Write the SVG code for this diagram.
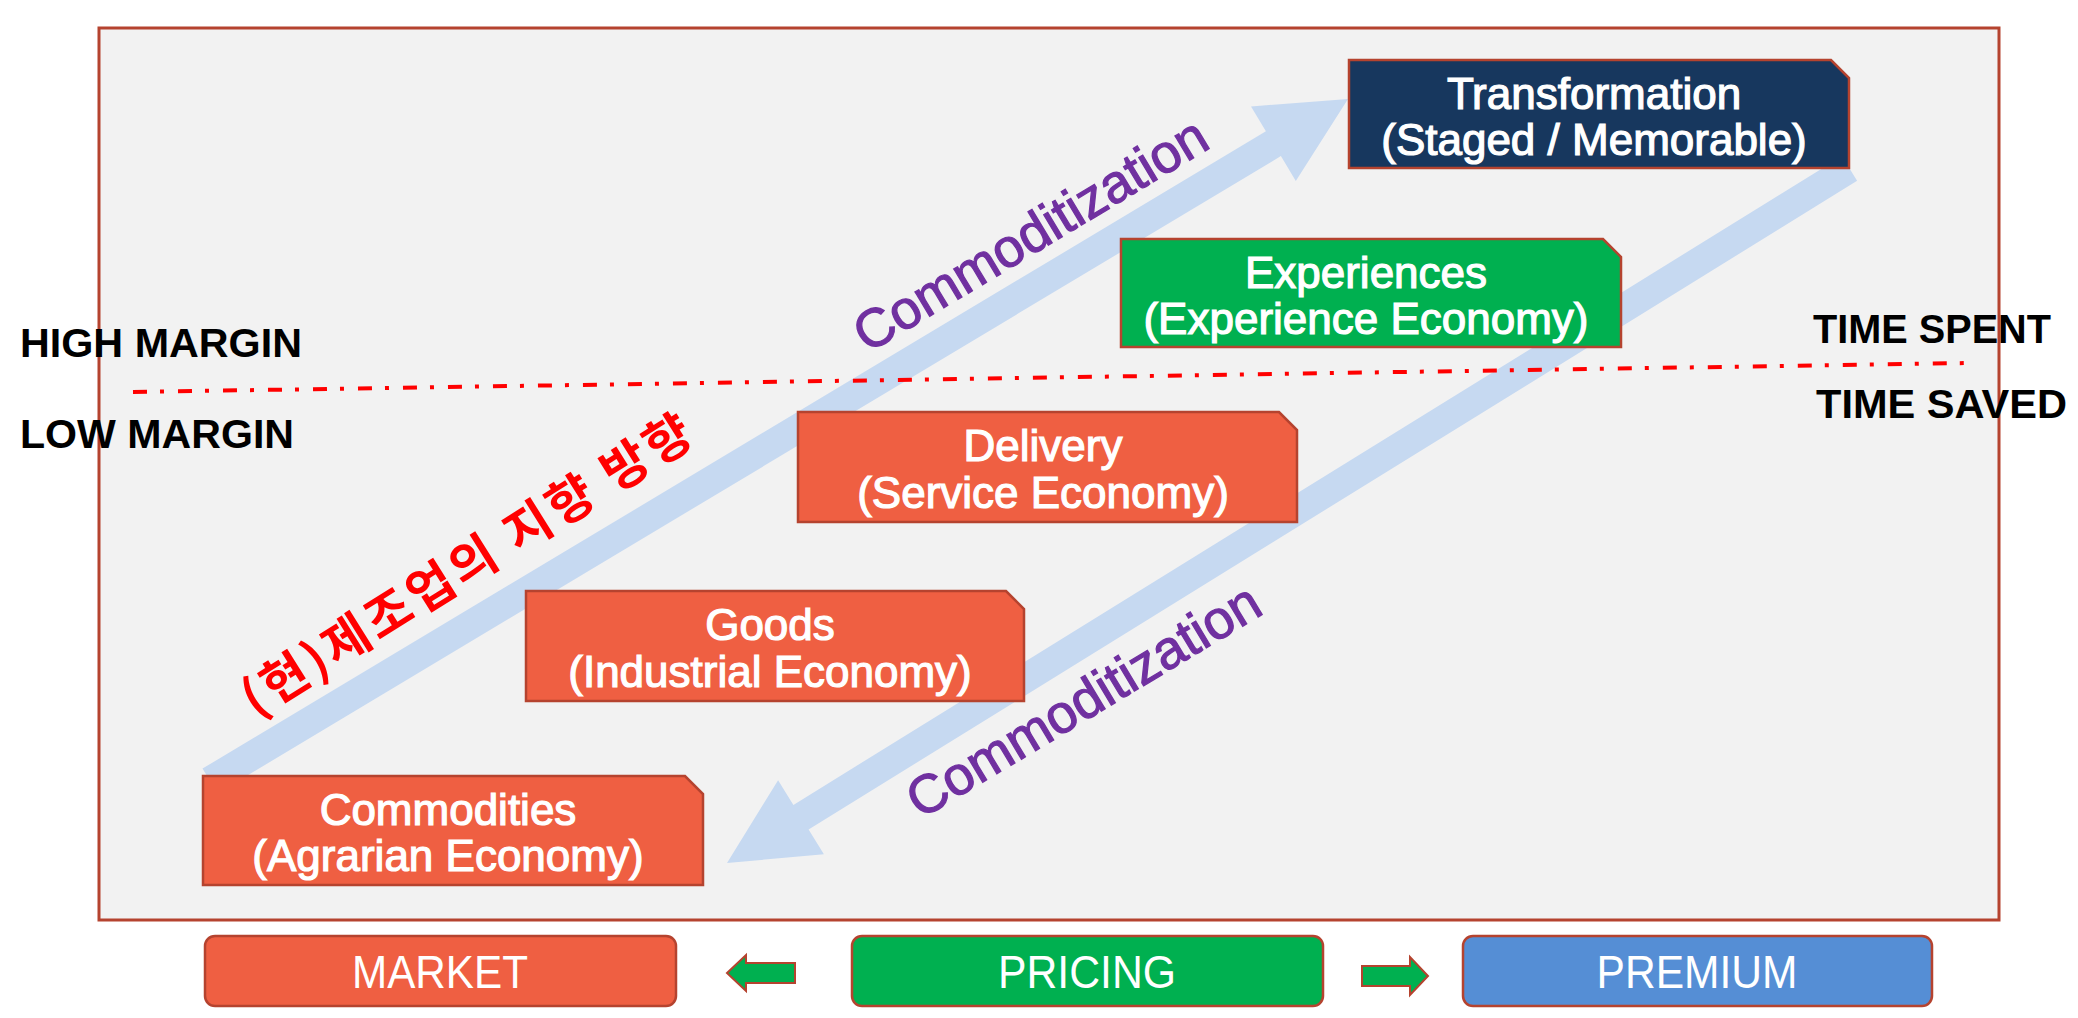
<svg xmlns="http://www.w3.org/2000/svg" width="2078" height="1018" viewBox="0 0 2078 1018">
<style>
.frame{fill:#F2F2F2;stroke:#B5432F;stroke-width:3}
.band{fill:#C6D9F1}
.box{stroke:#B5432F;stroke-width:2.5}
.orange{fill:#EF5F42}
.green{fill:#00B050}
.navy{fill:#17375E}
.blue{fill:#558ED5}
.bt{font-family:"Liberation Sans",Arial,sans-serif;font-size:44px;fill:#FFFFFF;stroke:#FFFFFF;stroke-width:1.2;text-anchor:middle}
.side{font-family:"Liberation Sans",Arial,sans-serif;font-size:40px;font-weight:bold;fill:#000000}
.comm{font-family:"Liberation Sans",Arial,sans-serif;font-size:54px;fill:#7030A0;stroke:#7030A0;stroke-width:1.2;text-anchor:middle}
.kor{font-family:"Noto Sans CJK KR","Liberation Sans",sans-serif;font-size:50px;font-weight:bold;fill:#FF0000;text-anchor:middle}
.foot{font-family:"Liberation Sans",Arial,sans-serif;font-size:46px;fill:#FFFFFF;text-anchor:middle}
.dash{fill:none;stroke:#FF0000;stroke-width:4;stroke-dasharray:14 13 4 14}
.garrow{fill:#00B050;stroke:#B5432F;stroke-width:2}
</style>
<rect class="frame" x="99" y="28" width="1900" height="892"/>
<g id="connectors">
<polygon class="band" points="202.5,768.6 1265.9,131.3 1251,106.4 1348,99 1295.8,181 1280.9,156.1 217.5,793.4"/>
<polygon class="band" points="1857.1,180.8 1841.9,156.2 793.4,804.9 778.1,780.2 727,863 823.9,854.2 808.6,829.5"/>
<line class="dash" x1="133" y1="392" x2="1969" y2="363"/>
<polygon class="garrow" points="795,963 746,963 746,955 727,973 746,991 746,983 795,983"/>
<polygon class="garrow" points="1362,966 1410,966 1410,957 1428,976 1410,995 1410,986 1362,986"/>
</g>
<g id="labels">
<text class="side" x="20" y="357" textLength="282" lengthAdjust="spacingAndGlyphs">HIGH MARGIN</text>
<text class="side" x="20" y="448" textLength="274" lengthAdjust="spacingAndGlyphs">LOW MARGIN</text>
<text class="side" x="1813" y="343" textLength="238" lengthAdjust="spacingAndGlyphs">TIME SPENT</text>
<text class="side" x="1816" y="418" textLength="251" lengthAdjust="spacingAndGlyphs">TIME SAVED</text>
<text class="comm" transform="translate(1030,234) rotate(-31)" y="19">Commoditization</text>
<text class="comm" transform="translate(1083,700) rotate(-31)" y="19">Commoditization</text>
<text class="kor" transform="translate(466,564) rotate(-32)" y="19" textLength="520" lengthAdjust="spacing">(현)제조업의 지향 방향</text>
</g>
<g id="node-transformation">
<polygon class="box navy" points="1349,60 1831,60 1849,78 1849,168 1349,168"/>
<text class="bt" x="1594" y="109">Transformation</text>
<text class="bt" x="1594" y="155">(Staged / Memorable)</text>
</g>
<g id="node-experiences">
<polygon class="box green" points="1121,239 1603,239 1621,257 1621,347 1121,347"/>
<text class="bt" x="1366" y="288">Experiences</text>
<text class="bt" x="1366" y="334">(Experience Economy)</text>
</g>
<g id="node-delivery">
<polygon class="box orange" points="798,412 1279,412 1297,430 1297,522 798,522"/>
<text class="bt" x="1043" y="461">Delivery</text>
<text class="bt" x="1043" y="508">(Service Economy)</text>
</g>
<g id="node-goods">
<polygon class="box orange" points="526,591 1006,591 1024,609 1024,701 526,701"/>
<text class="bt" x="770" y="640">Goods</text>
<text class="bt" x="770" y="687">(Industrial Economy)</text>
</g>
<g id="node-commodities">
<polygon class="box orange" points="203,776 685,776 703,794 703,885 203,885"/>
<text class="bt" x="448" y="825">Commodities</text>
<text class="bt" x="448" y="871">(Agrarian Economy)</text>
</g>
<g id="node-market">
<rect class="box orange" x="205" y="936" width="471" height="70" rx="10"/>
<text class="foot" x="440" y="988" textLength="176" lengthAdjust="spacingAndGlyphs">MARKET</text>
</g>
<g id="node-pricing">
<rect class="box green" x="852" y="936" width="471" height="70" rx="10"/>
<text class="foot" x="1087" y="988" textLength="178" lengthAdjust="spacingAndGlyphs">PRICING</text>
</g>
<g id="node-premium">
<rect class="box blue" x="1463" y="936" width="469" height="70" rx="10"/>
<text class="foot" x="1697" y="988" textLength="201" lengthAdjust="spacingAndGlyphs">PREMIUM</text>
</g>
</svg>
